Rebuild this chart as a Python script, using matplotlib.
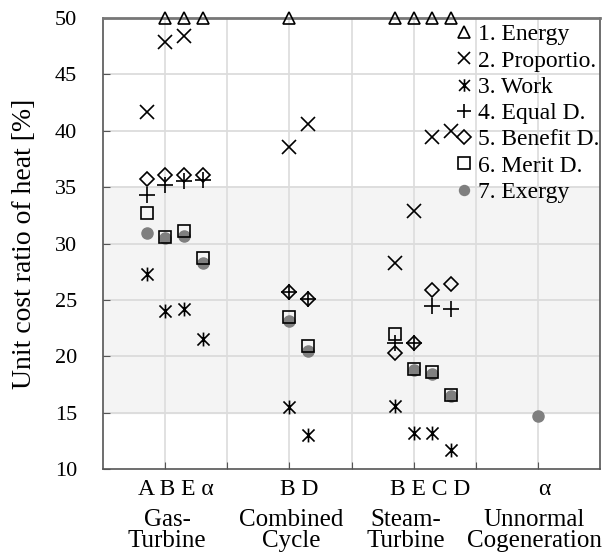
import numpy as np
import matplotlib.pyplot as plt
from matplotlib.path import Path

plt.rcParams["font.family"] = ["Liberation Serif", "DejaVu Serif"]

# x positions of the plants (group index 1, 3, 5, 7 with small offsets)
plant_x = [0.7, 1.0, 1.3, 1.6, 3.0, 3.3, 4.7, 5.0, 5.3, 5.6, 7.0]
nan = np.nan

# plants: GT A, B, E, alpha | CC B, D | ST B, E, C, D | Unnormal alpha
energy = [nan, 50, 50, 50, 50, nan, 50, 50, 50, 50, nan]
proportio = [41.7, 47.9, 48.4, nan, 38.6, 40.6, 28.3, 32.9, 39.4, 40.0, nan]
work = [27.3, 24.0, 24.2, 21.5, 15.5, 13.0, 15.6, 13.2, 13.2, 11.7, nan]
equal_d = [34.3, 35.2, 35.5, 35.6, 25.7, 25.1, 21.2, 21.2, 24.5, 24.2, nan]
benefit_d = [35.7, 36.1, 36.1, 36.1, 25.7, 25.1, 20.3, 21.2, 25.9, 26.4, nan]
merit_d = [32.7, 30.6, 31.1, 28.7, 23.5, 20.9, 22.0, 18.9, 18.6, 16.6, nan]
exergy = [30.9, 30.5, 30.7, 28.3, 23.1, 20.5, nan, 18.8, 18.4, 16.5, 14.7]

sub_labels = ["A B E \u03b1", "B D", "B E C D", "\u03b1"]
sub_label_x = [1.17, 3.16, 5.26, 7.1]
group_labels = ["Gas-\nTurbine", "Combined\nCycle", "Steam-\nTurbine", "Unnormal\nCogeneration"]
group_label_x = [1.03, 3.03, 4.88, 6.95]

# "x" with a vertical bar through it
work_marker = Path(
    [(-1, -1), (1, 1), (-1, 1), (1, -1), (0, -1.15), (0, 1.15)],
    [Path.MOVETO, Path.LINETO, Path.MOVETO, Path.LINETO, Path.MOVETO, Path.LINETO],
)

fig = plt.figure(figsize=(6.04, 5.58), dpi=100)
ax = fig.add_axes([0.171, 0.159, 0.822, 0.809])

ax.axhspan(15, 35, color="#f4f4f4", zorder=0)
for y in range(15, 50, 5):
    ax.axhline(y, color="#d9d9d9", lw=1.2, zorder=1)
for x in range(1, 8):
    ax.axvline(x, color="#dcdcdc", lw=1.2, zorder=1)

series = [
    (energy, "^", "1. Energy", dict(mfc="none", mec="black", ms=9, mew=1.2)),
    (proportio, "x", "2. Proportio.", dict(mec="black", ms=10, mew=1.2)),
    (work, work_marker, "3. Work", dict(mfc="none", mec="black", ms=10, mew=1.2)),
    (equal_d, "+", "4. Equal D.", dict(mec="black", ms=11, mew=1.2)),
    (benefit_d, "D", "5. Benefit D.", dict(mfc="none", mec="black", ms=7.5, mew=1.2)),
    (exergy, "o", "7. Exergy", dict(mfc="#7f7f7f", mec="#7f7f7f", ms=8)),
    (merit_d, "s", "6. Merit D.", dict(mfc="none", mec="black", ms=9, mew=1.2)),
]
handles = {}
for vals, marker, label, style in series:
    (h,) = ax.plot(plant_x, vals, ls="none", marker=marker, label=label,
                   clip_on=False, zorder=3, **style)
    handles[label] = h

order = ["1. Energy", "2. Proportio.", "3. Work", "4. Equal D.",
         "5. Benefit D.", "6. Merit D.", "7. Exergy"]
ax.legend([handles[k] for k in order], order, loc="upper right",
          bbox_to_anchor=(1.012, 1.0),
          frameon=False, fontsize=17, handletextpad=0.15, handlelength=0.9,
          labelspacing=0.2, borderaxespad=0.0, borderpad=0.25,
          markerscale=0.9)

ax.set_xlim(0, 8)
ax.set_ylim(10, 50)
ax.set_yticks(range(10, 51, 5))
ax.set_xticks(range(1, 8))
ax.set_xticklabels([])
ax.tick_params(axis="both", direction="in", length=5, color="#555555",
               labelsize=16)
ax.tick_params(axis="y", pad=19)
for s in ax.spines.values():
    s.set_color("#555555")
    s.set_linewidth(1.2)
ax.spines["top"].set_color("#777777")
ax.spines["top"].set_linewidth(2)

ax.set_ylabel("Unit cost ratio of heat [%]", fontsize=20, labelpad=13)

tr = ax.get_xaxis_transform()
for x, t in zip(sub_label_x, sub_labels):
    ax.text(x, -0.022, t, transform=tr, ha="center", va="top", fontsize=17)
for x, t in zip(group_label_x, group_labels):
    ax.text(x, -0.088, t, transform=tr, ha="center", va="top", fontsize=18,
            linespacing=0.92)

fig.savefig("out.png", dpi=100)
